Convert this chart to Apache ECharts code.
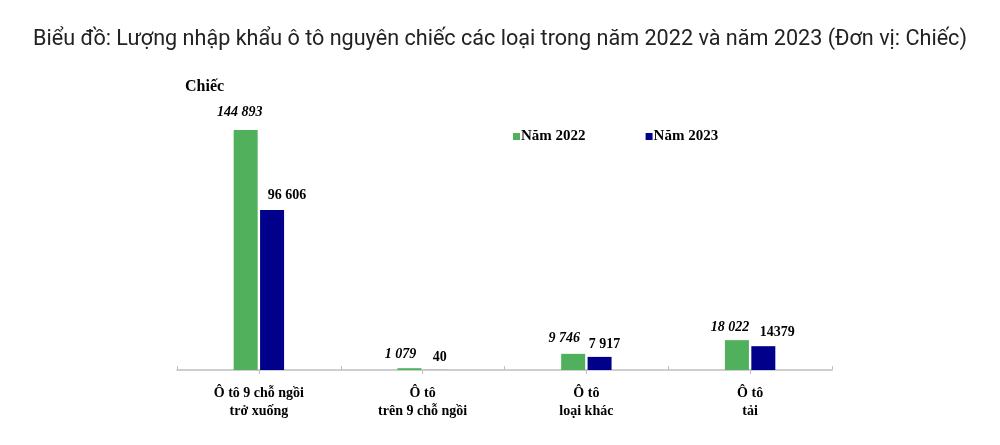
<!DOCTYPE html>
<html><head><meta charset="utf-8">
<script src="https://cdn.jsdelivr.net/npm/echarts@6/dist/echarts.min.js"></script>
<style>html,body{margin:0;padding:0;background:#fff}#c{width:1000px;height:445px}</style>
</head><body><div id="c"></div>
<script>
const categories = ["Ô tô 9 chỗ ngồi\ntrở xuống", "Ô tô\ntrên 9 chỗ ngồi", "Ô tô\nloại khác", "Ô tô\ntải"];
const seriesNames = ["Năm 2022", "Năm 2023"];
const values2022 = [144893, 1079, 9746, 18022];
const values2023 = [96606, 40, 7917, 14379];
const valueLabels2022 = ["144 893", "1 079", "9 746", "18 022"];
const valueLabels2023 = ["96 606", "40", "7 917", "14379"];
const titleText = "Biểu đồ: Lượng nhập khẩu ô tô nguyên chiếc các loại trong năm 2022 và năm 2023 (Đơn vị: Chiếc)";
const unitText = "Chiếc";

// label placement tweaks (layout only)
const labelShift2022 = [[-6, -6], [-9, -2], [-9, -3], [-7, -1]];
const labelShift2023 = [[15, -3], [4, -1], [5, 0], [14, -2]];

const serif = "Liberation Serif";
const withShift = (vals, shifts) => vals.map((v, i) => ({value: v, label: {offset: shifts[i]}}));

const chart = echarts.init(document.getElementById('c'));
chart.setOption({
  animation: false,
  title: [{
    text: titleText, left: 'center', top: 24,
    textStyle: {fontFamily: 'Roboto', fontSize: 21.6, fontWeight: 'normal', color: '#222'}
  }, {
    text: unitText, left: 180, top: 74,
    textStyle: {fontFamily: serif, fontSize: 16, fontWeight: 'bold', color: '#000'}
  }],
  legend: {
    left: 508, top: 124, itemWidth: 7, itemHeight: 7, itemGap: 60,
    icon: 'rect',
    textStyle: {fontFamily: serif, fontSize: 15, fontWeight: 'bold', color: '#000', padding: [0, 0, 0, -4]},
    data: seriesNames
  },
  grid: {left: 177, right: 168, top: 105, bottom: 75},
  xAxis: [{
    type: 'category', data: categories,
    axisLine: {lineStyle: {color: '#bfbfbf', width: 1.5}},
    axisTick: {show: true, inside: true, length: 4, lineStyle: {color: '#bfbfbf'}},
    axisLabel: {fontFamily: serif, fontSize: 14, fontWeight: 'bold', color: '#000', lineHeight: 18, margin: 14, interval: 0}
  }, {
    type: 'category', data: categories, position: 'bottom',
    axisLine: {show: false},
    axisTick: {show: true, alignWithLabel: true, length: 4, lineStyle: {color: '#bfbfbf'}},
    axisLabel: {show: false}
  }],
  yAxis: {type: 'value', min: 0, max: 160000, show: false, splitLine: {show: false}},
  series: [{
    name: seriesNames[0], type: 'bar', data: withShift(values2022, labelShift2022), barWidth: 24, barGap: '10%',
    itemStyle: {color: '#50b05c'},
    label: {show: true, position: 'top', formatter: p => valueLabels2022[p.dataIndex],
      fontFamily: serif, fontSize: 14, fontWeight: 'bold', fontStyle: 'italic', color: '#000'}
  }, {
    name: seriesNames[1], type: 'bar', data: withShift(values2023, labelShift2023), barWidth: 24,
    itemStyle: {color: '#00008b'},
    label: {show: true, position: 'top', formatter: p => valueLabels2023[p.dataIndex],
      fontFamily: serif, fontSize: 14, fontWeight: 'bold', color: '#000'}
  }]
});
</script></body></html>
